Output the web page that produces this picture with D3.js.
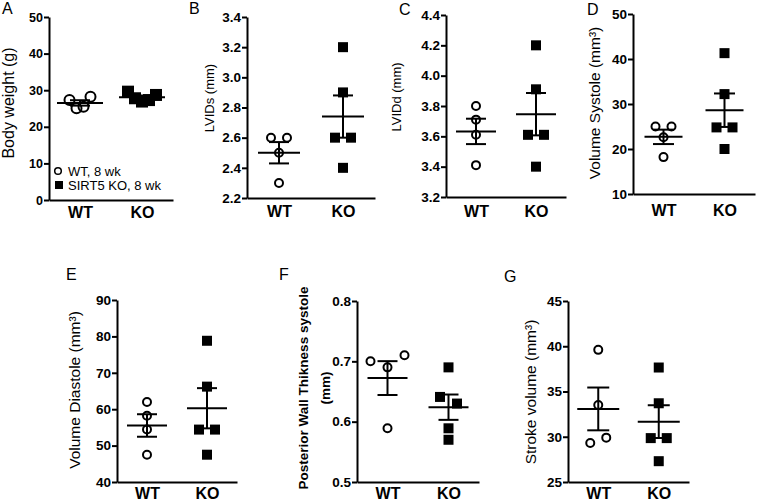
<!DOCTYPE html>
<html><head><meta charset="utf-8">
<script src="https://cdn.jsdelivr.net/npm/d3@7"></script>
<style>
body{margin:0;background:#fff}
svg{display:block}
text{font-family:"Liberation Sans",Arial,Helvetica,sans-serif;fill:#000}
</style>
</head><body>
<svg id="chart" width="757" height="502"></svg>
<script>
// ---------- data ----------
const groups = ["WT", "KO"];

const wtBodyWeight = [27.3, 25.1, 25.5, 28.2];
const koBodyWeight = [29.6, 27.8, 26.9, 27.3, 28.7];
const ticksBodyWeight = [0, 10, 20, 30, 40, 50];

const wtLVIDs = [2.6, 2.6, 2.5, 2.3];
const koLVIDs = [3.2, 2.9, 2.6, 2.6, 2.4];
const ticksLVIDs = [2.2, 2.4, 2.6, 2.8, 3.0, 3.2, 3.4];

const wtLVIDd = [3.8, 3.71, 3.61, 3.41];
const koLVIDd = [4.2, 3.91, 3.61, 3.61, 3.4];
const ticksLVIDd = [3.2, 3.4, 3.6, 3.8, 4.0, 4.2, 4.4];

const wtVolSys = [25.0, 25.0, 22.6, 18.2];
const koVolSys = [41.3, 32.2, 24.8, 24.8, 20.0];
const ticksVolSys = [10, 20, 30, 40, 50];

const wtVolDia = [62.0, 58.2, 54.4, 47.5];
const koVolDia = [78.8, 66.2, 54.4, 54.4, 47.5];
const ticksVolDia = [40, 50, 60, 70, 80, 90];

const wtPWT = [0.70, 0.69, 0.71, 0.589];
const koPWT = [0.69, 0.641, 0.630, 0.589, 0.570];
const ticksPWT = [0.5, 0.6, 0.7, 0.8];

const wtStroke = [39.6, 33.5, 29.3, 29.9];
const koStroke = [37.65, 33.7, 29.85, 29.85, 27.3];
const ticksStroke = [25, 30, 35, 40, 45];

const legendLabels = ["WT, 8 wk", "SIRT5 KO, 8 wk"];

// ---------- panel layout ----------
const panels = [
  {letter:"A", lx:2, ly:14, title:["Body weight (g)"], tx:[14], ty:103, tfs:16, tbold:false,
   wt:wtBodyWeight, ko:koBodyWeight, ticks:ticksBodyWeight, fmt:d3.format("d"),
   x0:49, yTop:17, yBot:200, len:124, ms:12, step:7, meanW:46, capW:20, tickFs:12.5, catPad:7, legend:true},
  {letter:"B", lx:189, ly:14, title:["LVIDs (mm)"], tx:[214], ty:98, tfs:13, tbold:false,
   wt:wtLVIDs, ko:koLVIDs, ticks:ticksLVIDs, fmt:d3.format(".1f"),
   x0:247, yTop:17, yBot:198, len:128, ms:10, step:16, meanW:42, capW:20, tickFs:13.5, catPad:8},
  {letter:"C", lx:399, ly:15, title:["LVIDd (mm)"], tx:[401], ty:97, tfs:13, tbold:false,
   wt:wtLVIDd, ko:koLVIDd, ticks:ticksLVIDd, fmt:d3.format(".1f"),
   x0:446, yTop:15, yBot:197, len:120, ms:10, step:16, meanW:40, capW:20, tickFs:13.5, catPad:9},
  {letter:"D", lx:587, ly:15, title:["Volume Systole (mm\u00B3)"], tx:[600], ty:103, tfs:15.5, tbold:false,
   wt:wtVolSys, ko:koVolSys, ticks:ticksVolSys, fmt:d3.format("d"),
   x0:633, yTop:14, yBot:194, len:122, ms:10, step:16, meanW:38, capW:21, tickFs:13.5, catPad:11},
  {letter:"E", lx:66, ly:280, title:["Volume Diastole (mm\u00B3)"], tx:[80], ty:390, tfs:15.5, tbold:false,
   wt:wtVolDia, ko:koVolDia, ticks:ticksVolDia, fmt:d3.format("d"),
   x0:117, yTop:300, yBot:482, len:120, ms:10, step:16, meanW:40, capW:20, tickFs:13.5, catPad:6},
  {letter:"F", lx:279, ly:280, title:["Posterior Wall Thikness systole", "(mm)"], tx:[308, 330], ty:388, tfs:13.5, tbold:true,
   wt:wtPWT, ko:koPWT, ticks:ticksPWT, fmt:d3.format(".1f"),
   x0:357, yTop:301, yBot:482, len:122, ms:10, step:17, meanW:40, capW:20, tickFs:13.5, catPad:6},
  {letter:"G", lx:504, ly:282, title:["Stroke volume (mm\u00B3)"], tx:[536], ty:392, tfs:15.5, tbold:false,
   wt:wtStroke, ko:koStroke, ticks:ticksStroke, fmt:d3.format("d"),
   x0:568, yTop:301, yBot:482, len:121, ms:10, step:16, meanW:42, capW:22, tickFs:13.5, catPad:6}
];

const svg = d3.select("#chart");

// spread points with (nearly) equal values into centered rows
function spread(values, y, step, thr) {
  const idx = values.map((v, i) => i).sort((a, b) => y(values[a]) - y(values[b]) || a - b);
  const off = new Array(values.length).fill(0);
  let row = [];
  const flush = () => {
    const r = row.slice().sort((a, b) => a - b);
    r.forEach((k, i) => off[k] = (i - (r.length - 1) / 2) * step);
    row = [];
  };
  idx.forEach(k => {
    if (row.length && Math.abs(y(values[k]) - y(values[row[row.length - 1]])) > thr) flush();
    row.push(k);
  });
  flush();
  return off;
}

function meanSem(arr) {
  const m = d3.mean(arr);
  const sd = d3.deviation(arr);
  return {m, sem: sd / Math.sqrt(arr.length)};
}

panels.forEach(p => {
  const g = svg.append("g");
  const y = d3.scaleLinear().domain(d3.extent(p.ticks)).range([p.yBot, p.yTop]);
  const x = d3.scalePoint().domain(groups).range([p.x0, p.x0 + p.len]).padding(0.5);

  // panel letter
  g.append("text").attr("x", p.lx).attr("y", p.ly).attr("font-size", 16).text(p.letter);

  // y axis
  const ya = g.append("g").attr("transform", `translate(${p.x0},0)`)
    .call(d3.axisLeft(y).tickValues(p.ticks).tickFormat(p.fmt).tickSize(5).tickSizeOuter(0).tickPadding(1));
  ya.select(".domain").attr("stroke", "#000").attr("stroke-width", 2);
  ya.selectAll(".tick line").attr("stroke", "#000").attr("stroke-width", 2);
  ya.selectAll(".tick text").attr("font-size", p.tickFs).attr("font-weight", "bold")
    .attr("font-family", '"Liberation Sans",Arial,sans-serif').attr("fill", "#000");

  // x axis
  const xa = g.append("g").attr("transform", `translate(0,${p.yBot})`)
    .call(d3.axisBottom(x).tickSize(0).tickSizeOuter(0).tickPadding(p.catPad));
  xa.select(".domain").attr("stroke", "#000").attr("stroke-width", 2);
  xa.selectAll(".tick text").attr("font-size", 16).attr("font-weight", "bold")
    .attr("font-family", '"Liberation Sans",Arial,sans-serif').attr("fill", "#000")
    .attr("dy", "0.71em");

  // axis title
  p.title.forEach((t, i) => {
    g.append("text")
      .attr("transform", `translate(${p.tx[i]},${p.ty}) rotate(-90)`)
      .attr("text-anchor", "middle")
      .attr("font-size", p.tfs)
      .attr("font-weight", p.tbold ? "bold" : "normal")
      .text(t);
  });

  // points
  const r = p.ms / 2 - 1;
  const wtOff = spread(p.wt, y, p.step, 9);
  const koOff = spread(p.ko, y, p.step, 9);
  g.append("g").selectAll("circle").data(p.wt).join("circle")
    .attr("cx", (d, i) => x("WT") + wtOff[i]).attr("cy", d => y(d)).attr("r", r)
    .attr("fill", "none").attr("stroke", "#000").attr("stroke-width", 2);
  g.append("g").selectAll("rect").data(p.ko).join("rect")
    .attr("x", (d, i) => x("KO") + koOff[i] - p.ms / 2).attr("y", d => y(d) - p.ms / 2)
    .attr("width", p.ms).attr("height", p.ms).attr("fill", "#000");

  // mean +/- SEM
  [["WT", p.wt], ["KO", p.ko]].forEach(([grp, arr]) => {
    const s = meanSem(arr);
    const cx = x(grp);
    const eg = g.append("g").attr("stroke", "#000").attr("stroke-width", 2);
    eg.append("line").attr("x1", cx - p.meanW / 2).attr("x2", cx + p.meanW / 2).attr("y1", y(s.m)).attr("y2", y(s.m));
    eg.append("line").attr("x1", cx).attr("x2", cx).attr("y1", y(s.m - s.sem)).attr("y2", y(s.m + s.sem));
    [s.m - s.sem, s.m + s.sem].forEach(v => {
      eg.append("line").attr("x1", cx - p.capW / 2).attr("x2", cx + p.capW / 2).attr("y1", y(v)).attr("y2", y(v));
    });
  });

  // legend (panel A)
  if (p.legend) {
    const lg = g.append("g");
    lg.append("circle").attr("cx", 58).attr("cy", 171).attr("r", 3.3)
      .attr("fill", "none").attr("stroke", "#000").attr("stroke-width", 1.5);
    lg.append("text").attr("x", 68).attr("y", 175.5).attr("font-size", 13).text(legendLabels[0]);
    lg.append("rect").attr("x", 55).attr("y", 181).attr("width", 8).attr("height", 8).attr("fill", "#000");
    lg.append("text").attr("x", 68).attr("y", 190).attr("font-size", 13).text(legendLabels[1]);
  }
});
</script>
</body></html>
